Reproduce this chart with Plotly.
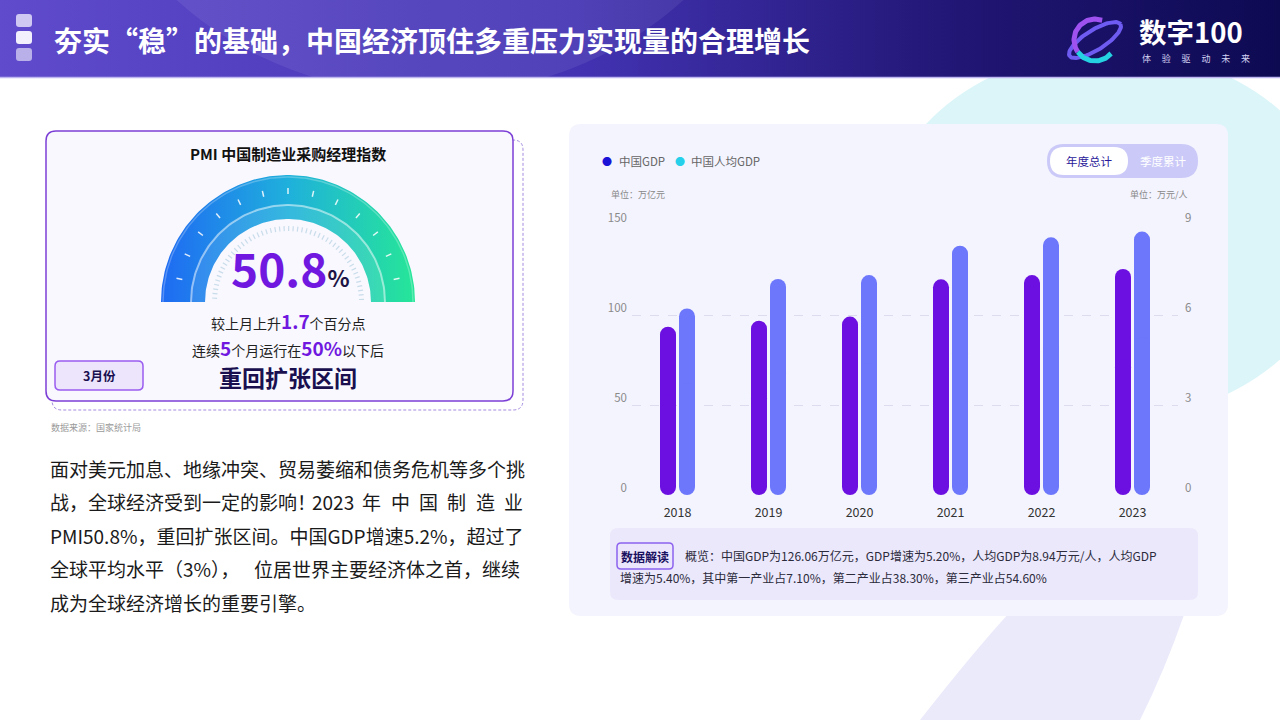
import numpy as np
import plotly.graph_objects as go

# ---------------- data ----------------
years = ["2018", "2019", "2020", "2021", "2022", "2023"]
gdp = [93.5, 96.8, 99.1, 119.8, 122.2, 125.6]            # 万亿元
gdp_per_capita = [6.22, 7.20, 7.33, 8.31, 8.59, 8.78]    # 万元/人
left_ticks = [0, 50, 100, 150]
right_ticks = [0, 3, 6, 9]
series_names = ["中国GDP", "中国人均GDP"]
pmi_value = "50.8"
pmi_change = "1.7"
months_below = "5"

W, H = 1280, 720
FONT = "Noto Sans CJK SC"
C_GDP = "#6c10e2"
C_PC = "#6c77fb"

fig = go.Figure()


def rrect(x0, y0, x1, y1, r):
    return (f"M{x0+r},{y0} L{x1-r},{y0} Q{x1},{y0} {x1},{y0+r} L{x1},{y1-r} "
            f"Q{x1},{y1} {x1-r},{y1} L{x0+r},{y1} Q{x0},{y1} {x0},{y1-r} "
            f"L{x0},{y0+r} Q{x0},{y0} {x0+r},{y0} Z")


shapes = []


def add_path(path, fill=None, line=None, lw=0, dash=None, layer="below"):
    d = dict(type="path", path=path, xref="x", yref="y", layer=layer,
             fillcolor=fill if fill else "rgba(0,0,0,0)",
             line=dict(color=line if line else "rgba(0,0,0,0)", width=lw))
    if dash:
        d["line"]["dash"] = dash
    shapes.append(d)


# background decorations
shapes.append(dict(type="circle", xref="x", yref="y", x0=880, x1=1340, y0=50, y1=420,
                   fillcolor="#dcf5f9", line=dict(width=0), layer="below"))
add_path("M920,720 Q975,650 1010,612 L1185,612 Q1165,670 1140,720 Z", fill="#ebeafb")
# chart panel
add_path(rrect(569, 124, 1228, 616, 12), fill="#f4f4fe")
add_path(rrect(610, 528, 1198, 600, 8), fill="#ebe8fb")
add_path(rrect(617, 543, 673, 569, 4), fill="#ebe6fc", line="#8c62ee", lw=1.5)
add_path(rrect(1047, 144, 1198, 178, 17), fill="#cbc9f8")
add_path(rrect(1050, 147, 1128, 175, 14), fill="#ffffff")
# left card
add_path(rrect(52, 140, 523, 410, 10), line="#a58ce0", lw=1, dash="3px,2px")
add_path(rrect(46, 131, 513, 401, 10), fill="#f8f8fe", line="#7c3fd6", lw=1.5)
add_path(rrect(55, 361, 143, 390, 5), fill="#ece5fc", line="#9a5cf0", lw=1.5)

# header overlays
shapes.append(dict(type="circle", xref="x", yref="y", x0=70, x1=790, y0=-560, y1=95,
                   fillcolor="rgba(255,255,255,0.07)", line=dict(width=0), layer="above"))
shapes.append(dict(type="line", xref="x", yref="y", x0=0, x1=W, y0=77.5, y1=77.5,
                   line=dict(color="#bdb6f0", width=1.5), layer="above"))
add_path(rrect(16, 14, 32, 27, 3), fill="#cfc8f3", layer="above")
add_path(rrect(16, 31, 32, 44, 3), fill="#f2f0fd", layer="above")
add_path(rrect(16, 48, 32, 61, 3), fill="#b9afe9", layer="above")

# header gradient (trace in page-pixel subplot)
fig.add_trace(go.Scatter(x=[0, W, W, 0, 0], y=[0, 0, 77, 77, 0], mode="lines",
                         fill="toself", line=dict(width=0),
                         fillgradient=dict(type="horizontal",
                                           colorscale=[[0, "#5f4bcb"], [0.45, "#4333b3"],
                                                       [0.75, "#211674"], [1, "#0d0a52"]]),
                         hoverinfo="skip", xaxis="x", yaxis="y"))

# logo swirl
lcx, lcy = 1095, 40
t = np.linspace(0, 2 * np.pi, 120)
phi = np.radians(-32)
ex = lcx + 30 * np.cos(t) * np.cos(phi) - 10 * np.sin(t) * np.sin(phi)
ey = lcy + 30 * np.cos(t) * np.sin(phi) + 10 * np.sin(t) * np.cos(phi)
fig.add_trace(go.Scatter(x=ex, y=ey, mode="lines", line=dict(color="#6e5cf2", width=4),
                         hoverinfo="skip", xaxis="x", yaxis="y"))
for a0, a1, col in [(70, 215, "#a052f0"), (215, 320, "#25d2e2")]:
    th = np.radians(np.linspace(a0, a1, 60))
    fig.add_trace(go.Scatter(x=lcx + 21 * np.cos(th), y=lcy - 21 * np.sin(th), mode="lines",
                             line=dict(color=col, width=5), hoverinfo="skip",
                             xaxis="x", yaxis="y"))

# gauge
gcx, gcy = 288, 302


def arc(r, a0, a1, n=120):
    th = np.radians(np.linspace(a0, a1, n))
    return gcx + r * np.cos(th), gcy - r * np.sin(th)


def annulus(r_in, r_out):
    xo, yo = arc(r_out, 180, 0)
    xi, yi = arc(r_in, 0, 180)
    return np.r_[xo, xi, xo[0]], np.r_[yo, yi, yo[0]]


ax_, ay_ = annulus(83, 127)
fig.add_trace(go.Scatter(x=ax_, y=ay_, mode="lines", fill="toself", line=dict(width=0),
                         fillgradient=dict(type="horizontal",
                                           colorscale=[[0, "#1f6af3"], [0.5, "#1fb0dc"],
                                                       [1, "#26e698"]]),
                         hoverinfo="skip", xaxis="x", yaxis="y"))
bx, by = annulus(83, 97)
fig.add_trace(go.Scatter(x=bx, y=by, mode="lines", fill="toself", line=dict(width=0),
                         fillcolor="rgba(255,255,255,0.10)", hoverinfo="skip",
                         xaxis="x", yaxis="y"))
for r, col, w in [(97, "rgba(255,255,255,0.5)", 2), (125, "rgba(255,255,255,0.25)", 1.5)]:
    x_, y_ = arc(r, 180, 0)
    fig.add_trace(go.Scatter(x=x_, y=y_, mode="lines", line=dict(color=col, width=w),
                             hoverinfo="skip", xaxis="x", yaxis="y"))
tx, ty = [], []
for k in range(13):
    th = np.radians(12 + 13 * k)
    for r in (108, 114):
        tx.append(gcx + r * np.cos(th))
        ty.append(gcy - r * np.sin(th))
    tx.append(None)
    ty.append(None)
fig.add_trace(go.Scatter(x=tx, y=ty, mode="lines", line=dict(color="rgba(255,255,255,0.85)", width=1.5),
                         hoverinfo="skip", xaxis="x", yaxis="y"))
dx, dy = [], []
for a in np.arange(2, 179, 3.5):
    th = np.radians(a)
    for r in (71, 76):
        dx.append(gcx + r * np.cos(th))
        dy.append(gcy - r * np.sin(th))
    dx.append(None)
    dy.append(None)
fig.add_trace(go.Scatter(x=dx, y=dy, mode="lines", line=dict(color="#c9dcea", width=1.2),
                         hoverinfo="skip", xaxis="x", yaxis="y"))

# ---------------- bar chart ----------------
cat_px = (1178 - 632) / 6
bw = 16 / cat_px
for vals, col, off, yax in [(gdp, C_GDP, -17.5 / cat_px, "y2"),
                            (gdp_per_capita, C_PC, 1.5 / cat_px, "y3")]:
    fig.add_trace(go.Bar(x=years, y=[v * 0.6 for v in vals], base=[v * 0.4 for v in vals],
                         width=bw, offset=off,
                         marker=dict(color=col, cornerradius=8, line=dict(width=0)),
                         xaxis="x2", yaxis=yax, hoverinfo="skip"))
    fig.add_trace(go.Bar(x=years, y=[-v * 0.6 for v in vals], base=[v * 0.6 for v in vals],
                         width=bw, offset=off,
                         marker=dict(color=col, cornerradius=8, line=dict(width=0)),
                         xaxis="x2", yaxis=yax, hoverinfo="skip"))

# ---------------- annotations ----------------
ann = []


def txt(x, y, text, size, color, xanchor="left", yanchor="middle", bold=False):
    if bold:
        text = f"<b>{text}</b>"
    ann.append(dict(x=x, y=y, xref="x", yref="y", text=text, showarrow=False,
                    xanchor=xanchor, yanchor=yanchor,
                    font=dict(family=FONT, size=size, color=color)))


txt(52, 40, "夯实“稳”的基础，中国经济顶住多重压力实现量的合理增长", 28, "#ffffff", bold=True)
txt(1137, 31, "数字100", 27.5, "#ffffff", bold=True)
SP = "\u2003\u2009"
txt(1140, 58, SP.join("体验驱动未来"), 9, "#d4d2f2")

txt(288, 153, "PMI 中国制造业采购经理指数", 15, "#111111", xanchor="center", bold=True)
txt(290, 267, f"<b>{pmi_value}</b><span style='font-size:23px;color:#1d1445'><b>%</b></span>",
    46, "#7018e0", xanchor="center")
P = "font-size:19px;color:#7018e0;font-weight:bold"
txt(288, 320, f"较上月上升<span style='{P}'>{pmi_change}</span>个百分点", 14, "#222222",
    xanchor="center")
txt(288, 347, f"连续<span style='{P}'>{months_below}</span>个月运行在<span style='{P}'>50%</span>以下后",
    14, "#222222", xanchor="center")
txt(288, 377, "重回扩张区间", 23, "#1a1050", xanchor="center", bold=True)
txt(99, 375, "3月份", 12.5, "#1a1050", xanchor="center", bold=True)
txt(49, 427, "数据来源：国家统计局", 9, "#9a9a9a")

PF = 19
PC_ = "#1a1a1a"
txt(48, 468, "面对美元加息、地缘冲突、贸易萎缩和债务危机等多个挑", PF, PC_)
txt(48, 501, "战，全球经济受到一定的影响！", PF, PC_)
for w_, cx_ in [("2023", 333), ("年", 371), ("中", 400), ("国", 428), ("制", 456),
                ("造", 485), ("业", 513)]:
    txt(cx_, 501, w_, PF, PC_, xanchor="center")
txt(48, 535, "PMI50.8%，重回扩张区间。中国GDP增速5.2%，超过了", PF, PC_)
txt(48, 568, "全球平均水平（3%），", PF, PC_)
txt(522, 568, "位居世界主要经济体之首，继续", PF, PC_, xanchor="right")
txt(48, 602, "成为全球经济增长的重要引擎。", PF, PC_)

# chart legend / units / toggle
txt(607, 161, "●", 10, "#1a12d6", xanchor="center")
txt(617, 161, series_names[0], 11.5, "#666666")
txt(680, 161, "●", 10, "#26d0ea", xanchor="center")
txt(689, 161, series_names[1], 11.5, "#666666")
txt(609, 194, "单位：万亿元", 9, "#888888")
txt(1190, 194, "单位：万元/人", 9, "#888888", xanchor="right")
txt(1089, 161, "年度总计", 11.5, "#2a1a9a", xanchor="center")
txt(1163, 161, "季度累计", 11.5, "#ffffff", xanchor="center")
txt(645, 556, "数据解读", 12, "#1a1060", xanchor="center", bold=True)
txt(683, 555, "概览：中国GDP为126.06万亿元，GDP增速为5.20%，人均GDP为8.94万元/人，人均GDP", 12, "#2b2b3b")
txt(618, 577, "增速为5.40%，其中第一产业占7.10%，第二产业占38.30%，第三产业占54.60%", 12, "#2b2b3b")

fig.update_layout(
    width=W, height=H, margin=dict(l=0, r=0, t=0, b=0, pad=0, autoexpand=False),
    paper_bgcolor="#ffffff", plot_bgcolor="rgba(0,0,0,0)",
    showlegend=False, barmode="overlay",
    font=dict(family=FONT),
    shapes=shapes, annotations=ann,
    xaxis=dict(domain=[0, 1], range=[0, W], visible=False, fixedrange=True, automargin=False),
    yaxis=dict(domain=[0, 1], range=[H, 0], visible=False, fixedrange=True, automargin=False),
    xaxis2=dict(domain=[632 / W, 1178 / W], anchor="y2", type="category",
                range=[-0.5, 5.5], showgrid=False, zeroline=False, showline=False,
                ticks="", tickfont=dict(family=FONT, size=12.5, color="#333333"),
                ticklabelstandoff=8, automargin=False),
    yaxis2=dict(domain=[1 - 495 / H, 1 - 225 / H], anchor="x2", range=[0, 150],
                tickvals=left_ticks, showgrid=True, gridcolor="#dcdcee", griddash="dash",
                gridwidth=1, zeroline=False, showline=False, ticks="",
                tickfont=dict(family=FONT, size=11.5, color="#8a8a8a"),
                ticklabelshift=-7, ticklabelstandoff=4, automargin=False),
    yaxis3=dict(domain=[1 - 495 / H, 1 - 225 / H], anchor="x2", overlaying="y2", side="right",
                range=[0, 9], tickvals=right_ticks, showgrid=False, zeroline=False,
                showline=False, ticks="", automargin=False,
                tickfont=dict(family=FONT, size=11.5, color="#8a8a8a"),
                ticklabelshift=-7, ticklabelstandoff=6),
)

fig.write_html("out.html")
